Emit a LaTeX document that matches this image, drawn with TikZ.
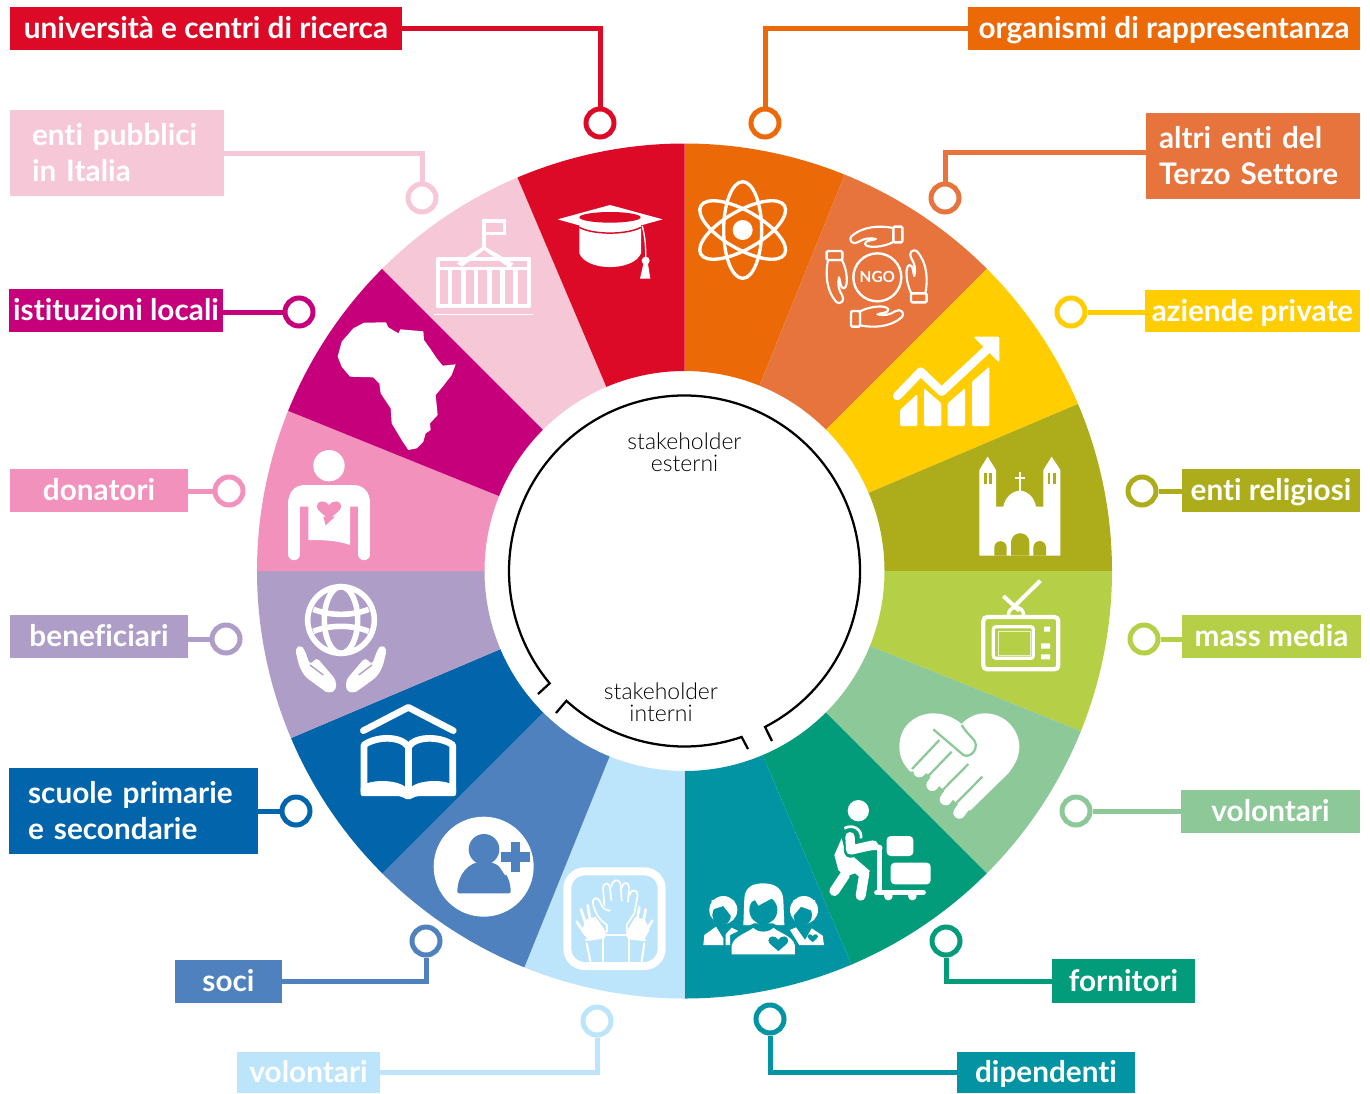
\documentclass[tikz,border=0pt]{standalone}
\usepackage{fontspec}
\setmainfont{Lato}[Ligatures=NoCommon]
\newfontfamily\lightf{Lato Light}[Ligatures=NoCommon]
\definecolor{cRed}{HTML}{DC0A26}
\definecolor{cOra}{HTML}{EC6907}
\definecolor{cPale}{HTML}{F6C7D6}
\definecolor{cCor}{HTML}{E6743C}
\definecolor{cMag}{HTML}{C6007B}
\definecolor{cYel}{HTML}{FFCD00}
\definecolor{cPin}{HTML}{F291BC}
\definecolor{cOli}{HTML}{ADAD1C}
\definecolor{cLil}{HTML}{AE9DC6}
\definecolor{cLim}{HTML}{B5CF47}
\definecolor{cBlu}{HTML}{0265AB}
\definecolor{cMin}{HTML}{8DC898}
\definecolor{cSte}{HTML}{4E81BD}
\definecolor{cGre}{HTML}{039C7A}
\definecolor{cSky}{HTML}{BCE4FA}
\definecolor{cTea}{HTML}{0294A3}
\tikzset{
  lbl/.style={fill=#1,text=white,font=\fontsize{22.3}{27}\selectfont\bfseries,inner sep=0pt,outer sep=0pt,rectangle,anchor=center},
  one/.style={text height=18pt,text depth=2.5pt},
  ring/.style={circle,draw=#1,line width=3.75pt,fill=white,minimum size=21pt,inner sep=0pt},
  conn/.style={draw=#1,line width=3.75pt},
  hk/.style={line width=1.7pt,black,line join=miter},
  zA/.style={shift={(260,140)},x=.25pt,y=-.25pt},
  zB/.style={shift={(680,140)},x=.25pt,y=-.25pt},
  zC/.style={shift={(260,570)},x=.25pt,y=-.25pt},
  zD/.style={shift={(680,570)},x=.25pt,y=-.25pt},
  zH/.style={shift={(555,860)},x=.25pt,y=-.25pt},
  zW/.style={shift={(825,795)},x=.25pt,y=-.25pt},
  zF/.style={shift={(695,875)},x=.25pt,y=-.25pt},
  stk/.style={font=\lightf\fontsize{17.2}{16.5}\selectfont,align=center,text=black}
}
\newcommand{\myheart}[3]{\fill[#3,shift={(#1)},scale=#2] (0,25) .. controls (-15,10) and (-35,0) .. (-35,-12) .. controls (-35,-30) and (-10,-32) .. (0,-15) .. controls (10,-32) and (35,-30) .. (35,-12) .. controls (35,0) and (15,10) .. (0,25) -- cycle;}
\newcommand{\ngohand}{\draw[white,line width=1.6pt,line join=round,fill=cCor]
  (640,264) .. controls (600,256) and (550,258) .. (515,288) .. controls (503,303) and (520,316) .. (535,306) .. controls (550,296) and (568,292) .. (588,297) .. controls (575,302) and (555,300) .. (555,312) .. controls (560,326) and (610,322) .. (640,306) -- cycle;
  \draw[white,line width=1.8pt,rounded corners=1pt,fill=cCor] (640,260) rectangle (667,307);}
\begin{document}
\begin{tikzpicture}[x=.75pt,y=-.75pt]
\useasboundingbox (0,0) rectangle (1370,1093);
\fill[white] (0,0) rectangle (1370,1093);
\coordinate (W) at (684.5,571);
% wheel
\begin{scope}[shift={(W)}]
\foreach \c/\u/\v in {cOra/-90/-68,cCor/-68/-45,cYel/-45/-23,cOli/-23/0,cLim/0/22,cMin/22/45,cGre/45/67,cTea/67/90,cSky/90/112,cSte/112/135,cBlu/135/157,cLil/157/180,cPin/180/202,cMag/202/225,cPale/225/247,cRed/247/270}{
  \fill[\c] (\u:427.5) arc[start angle=\u,end angle=\v,radius=427.5] -- (\v:200) arc[start angle=\v,end angle=\u,radius=200] -- cycle;
}
\coordinate (e1) at (62.7:175.5);
\coordinate (e2) at (140.2:175.5);
\coordinate (e3) at (132.3:175.5);
\coordinate (e4) at (71:175.5);
\end{scope}
\coordinate (h1) at (772,741);
\coordinate (h2) at (538,694);
\coordinate (h3) at (556,713);
\coordinate (h4) at (748,749);
\draw[hk] (h1) -- (e1) arc[start angle=62.7,end angle=-219.8,radius=175.5] -- (h2);
\draw[hk] (h3) -- (e3) arc[start angle=132.3,end angle=71,radius=175.5] -- (h4);
\node[stk] (se) at (684.5,452) {stakeholder\\esterni};
\node[stk] (si) at (661,702) {stakeholder\\interni};
% labels
\node[lbl=cRed,one,minimum width=294pt,minimum height=32.25pt] (l1) at (206,28.5) {università e centri di ricerca};
\node[lbl=cOra,one,minimum width=294pt,minimum height=32.25pt] (l2) at (1164,28.5) {organismi di rappresentanza};
\node[lbl=cPale,minimum width=160.5pt,minimum height=64.5pt,text width=127.5pt,align=left] (l3) at (117,153) {enti pubblici\\in Italia};
\node[lbl=cCor,minimum width=160.5pt,minimum height=64.5pt,text width=141pt,align=left] (l4) at (1253,156) {altri enti del\\Terzo Settore};
\node[lbl=cMag,one,minimum width=160.5pt,minimum height=32.25pt] (l5) at (116,310.5) {istituzioni locali};
\node[lbl=cYel,one,minimum width=161.25pt,minimum height=31.5pt] (l6) at (1252.5,311) {aziende private};
\node[lbl=cPin,one,minimum width=133.5pt,minimum height=32.25pt] (l7) at (99,490.5) {donatori};
\node[lbl=cOli,one,minimum width=133.5pt,minimum height=32.25pt] (l8) at (1271,490.5) {enti religiosi};
\node[lbl=cLil,one,minimum width=133.5pt,minimum height=32.25pt] (l9) at (99,636.5) {beneficiari};
\node[lbl=cLim,one,minimum width=134.25pt,minimum height=32.25pt] (l10) at (1271.5,636.5) {mass media};
\node[lbl=cBlu,minimum width=186.75pt,minimum height=64.5pt,text width=158pt,align=left] (l11) at (133.5,811) {scuole primarie\\e secondarie};
\node[lbl=cMin,one,minimum width=134.25pt,minimum height=32.25pt] (l12) at (1270.5,811.5) {volontari};
\node[lbl=cSte,one,minimum width=80.25pt,minimum height=32.25pt] (l13) at (228.5,981.5) {soci};
\node[lbl=cGre,one,minimum width=107.25pt,minimum height=33pt] (l14) at (1123.5,981) {fornitori};
\node[lbl=cSky,one,minimum width=107.25pt,minimum height=30.75pt] (l15) at (308.5,1072.5) {volontari};
\node[lbl=cTea,one,minimum width=133.5pt,minimum height=30.75pt] (l16) at (1046,1072.5) {dipendenti};
% rings
\node[ring=cRed] (c1) at (600,123) {};
\node[ring=cOra] (c2) at (765,123) {};
\node[ring=cPale] (c3) at (422,198) {};
\node[ring=cCor] (c4) at (945,198) {};
\node[ring=cMag] (c5) at (299,312) {};
\node[ring=cYel] (c6) at (1071,312) {};
\node[ring=cPin] (c7) at (229,491) {};
\node[ring=cOli] (c8) at (1142,491) {};
\node[ring=cLil] (c9) at (226,639) {};
\node[ring=cLim] (c10) at (1144,639) {};
\node[ring=cBlu] (c11) at (296,811) {};
\node[ring=cMin] (c12) at (1076,811) {};
\node[ring=cSte] (c13) at (426,941) {};
\node[ring=cGre] (c14) at (946,941) {};
\node[ring=cSky] (c15) at (597,1021) {};
\node[ring=cTea] (c16) at (770,1019) {};
\coordinate (a4) at (1146,152);
% connectors
\draw[conn=cRed] (l1.east) -| (c1.north);
\draw[conn=cOra] (l2.west) -| (c2.north);
\draw[conn=cPale] (l3.east) -| (c3.north);
\draw[conn=cCor] (a4) -| (c4.north);
\draw[conn=cMag] (l5.east |- c5.west) -- (c5.west);
\draw[conn=cYel] (l6.west |- c6.east) -- (c6.east);
\draw[conn=cPin] (l7.east |- c7.west) -- (c7.west);
\draw[conn=cOli] (l8.west |- c8.east) -- (c8.east);
\draw[conn=cLil] (l9.east |- c9.west) -- (c9.west);
\draw[conn=cLim] (l10.west |- c10.east) -- (c10.east);
\draw[conn=cBlu] (l11.east) -- (c11.west);
\draw[conn=cMin] (l12.west |- c12.east) -- (c12.east);
\draw[conn=cSte] (l13.east) -| (c13.south);
\draw[conn=cGre] (l14.west) -| (c14.south);
\draw[conn=cSky] (l15.east) -| (c15.south);
\draw[conn=cTea] (l16.west) -| (c16.south);
% ---- quadrant A icons
\begin{scope}[zA]
 % cap
 \fill[white] (893,238) -- (1050,195) -- (1208,238) -- (1050,282) -- cycle;
 \fill[white] (958,250) -- (1143,250) -- (1143,340) .. controls (1120,395) and (980,395) .. (958,340) -- cycle;
 \fill[cRed] (1050,232) ellipse[x radius=92,y radius=16];
 \draw[cRed,line width=1.1pt] (958,262) .. controls (1000,285) and (1100,285) .. (1143,262);
 \draw[white,line width=1pt] (1147,258) .. controls (1155,290) and (1158,320) .. (1157,360);
 \fill[white] (1157,362) circle[radius=12];
 \fill[white] (1150,372) -- (1164,372) -- (1171,416) -- (1140,416) -- cycle;
 % capitol
 \draw[white,line width=3pt,line join=round] (534,356) rectangle (806,499);
 \draw[white,line width=2.6pt] (534,385) -- (806,385);
 \foreach \x in {570,610,648,688,727,767}{\draw[white,line width=3.4pt] (\x,385) -- (\x,499);}
 \fill[white] (590,370) -- (672,318) -- (760,370) -- (750,385) -- (672,330) -- (606,380) -- cycle;
 \draw[white,line width=2.6pt] (672,322) -- (672,243) -- (733,243) -- (733,281) -- (672,281);
 \draw[white,line width=.8pt] (523,524) -- (818,524);
 % Africa
 \fill[white] (312,548) -- (378,547) -- (385,562) -- (415,580) -- (421,568) -- (490,574) -- (492,600) -- (510,625) -- (530,655) -- (548,677) -- (587,673) -- (575,705) -- (548,740) -- (527,765) -- (533,825) -- (510,850) -- (512,870) -- (497,880) -- (490,905) -- (470,925) -- (445,930) -- (425,900) -- (395,850) -- (392,805) -- (362,760) -- (358,730) -- (340,712) -- (270,710) -- (245,680) -- (233,650) -- (245,605) -- (280,565) -- cycle;
 % donor
 \fill[white] (207,977) circle[radius=47];
 \fill[white] (85,1090) .. controls (85,1055) and (105,1035) .. (135,1035) -- (280,1035) .. controls (310,1035) and (330,1055) .. (330,1090) -- (295,1100) -- (295,1100) -- (270,1100) -- (270,1215) .. controls (230,1200) and (180,1200) .. (145,1200) -- (145,1100) -- (120,1100) -- cycle;
 \draw[white,line width=8.75pt,line cap=round] (102.5,1085) -- (102.5,1243) (312.5,1085) -- (312.5,1243);
 \myheart{207,1112}{1.05}{cPin}
 \fill[cPin] (190,1130) -- (197,1156) -- (225,1130) -- cycle;
\end{scope}
% ---- quadrant B icons
\begin{scope}[zB]
 % atom
 \foreach \r in {0,60,120}{\draw[white,line width=2.5pt,rotate around={\r:(188,270)}] (188,270) ellipse[x radius=57,y radius=145];}
 \fill[white] (188,270) circle[radius=30];
 % NGO
 \draw[white,line width=1.8pt] (592,412) circle[radius=72];
 \node[text=white,font=\fontsize{11.5}{11.5}\selectfont\bfseries] (ngo) at (592,412) {NGO};
 \begin{scope}\ngohand\end{scope}
 \begin{scope}[rotate around={-90:(590,410)}]\ngohand\end{scope}
 \begin{scope}[rotate around={180:(590,410)}]\ngohand\end{scope}
 \begin{scope}[rotate around={90:(590,410)}]\ngohand\end{scope}
 % chart
 \fill[white,rounded corners=1pt] (660,858) -- (712,858) -- (712,762) -- (660,810) -- cycle;
 \fill[white,rounded corners=1pt] (732,858) -- (784,858) -- (784,790) -- (732,745) -- cycle;
 \fill[white,rounded corners=1pt] (803,858) -- (855,858) -- (855,745) -- (803,790) -- cycle;
 \fill[white,rounded corners=1pt] (876,858) -- (928,858) -- (928,680) -- (876,725) -- cycle;
 \draw[cYel,line width=11pt,line join=round] (650,768) -- (722,695) -- (785,755) -- (930,615);
 \draw[white,line width=6.5pt,line cap=round,line join=round] (652,768) -- (722,695) -- (785,755) -- (930,620);
 \fill[white,rounded corners=1.5pt] (880,590) -- (958,590) -- (958,668) -- cycle;
 % church
 \fill[white] (898,1247) -- (898,990) -- (923,950) -- (948,990) -- (948,1100) -- (970,1100) .. controls (975,1070) and (1000,1052) .. (1019,1052) .. controls (1040,1052) and (1063,1070) .. (1068,1100) -- (1090,1100) -- (1090,990) -- (1115,950) -- (1141,990) -- (1141,1247) -- cycle;
 \foreach \x in {912,927,1103,1119}{\fill[cOli] (\x,1000) rectangle (\x+8,1033);}
 \fill[cOli] (943,1247) -- (943,1222) arc[start angle=180,end angle=360,radius=18.5] -- (980,1247) -- cycle;
 \fill[cOli] (993,1247) -- (993,1207) arc[start angle=180,end angle=360,radius=27.5] -- (1048,1247) -- cycle;
 \fill[cOli] (1060,1247) -- (1060,1222) arc[start angle=180,end angle=360,radius=19] -- (1098,1247) -- cycle;
 \draw[white,line width=1.6pt] (1020,995) -- (1020,1052) (1005,1015) -- (1035,1015);
\end{scope}
% ---- quadrant C icons
\begin{scope}[zC]
 % globe
 \draw[white,line width=4.2pt] (243,150) circle[radius=100];
 \draw[white,line width=4.2pt] (243,150) ellipse[x radius=50,y radius=100];
 \draw[white,line width=4.2pt] (160,118) .. controls (210,138) and (276,138) .. (326,118);
 \draw[white,line width=4.2pt] (160,184) .. controls (210,164) and (276,164) .. (326,184);
 \foreach \s/\o in {1/0,-1/486}{
  \begin{scope}[xshift=\o*.25pt,xscale=\s]
  \fill[white,rounded corners=3pt] (105,236) -- (122,224) -- (134,240) -- (150,285) -- (170,262) -- (228,330) -- (228,362) -- (205,370) -- (190,360) -- (135,320) -- (118,290) -- cycle;
  \end{scope}
 }
 \draw[cLil,line width=1pt] (150,285) -- (190,315);
 \draw[cLil,line width=1pt] (336,285) -- (296,315);
 % book
 \draw[white,line width=5pt,line cap=round,line join=round] (310,482) -- (445,412) -- (580,482);
 \draw[white,line width=5pt,line join=round] (312,665) -- (312,525) .. controls (345,500) and (420,495) .. (445,530) .. controls (470,495) and (545,500) .. (578,525) -- (578,665);
 \fill[white] (434,525) rectangle (456,670);
 \fill[white,rounded corners=1.5pt] (302,650) .. controls (340,625) and (420,630) .. (445,660) .. controls (470,630) and (550,625) .. (588,650) -- (588,678) -- (470,678) -- (445,690) -- (420,678) -- (302,678) -- cycle;
 % add user
 \fill[white] (671,890) circle[radius=150];
 \fill[cSte,rounded corners=1pt] (592,970) .. controls (592,915) and (625,875) .. (672,875) .. controls (720,875) and (752,915) .. (752,970) -- cycle;
 \fill[cSte] (672,838) circle[radius=46];
 \fill[white] (708,875) -- (745,875) -- (745,915) -- (735,915) -- cycle;
 \fill[cSte] (722,847) rectangle (810,875);
 \fill[cSte] (752,817) rectangle (780,905);
\end{scope}
% raised hands
\begin{scope}[zH]
 \draw[white,line width=6pt,rounded corners=13pt] (37,34) rectangle (320,318);
 \begin{scope}[white,line join=round,line cap=round]
  % centre hand
  \draw[line width=1.3pt] (165,152) .. controls (150,150) and (142,145) .. (135,125) .. controls (128,108) and (108,112) .. (115,135) .. controls (120,160) and (135,180) .. (156,195) -- (156,216);
  \draw[line width=1.3pt] (148,135) -- (144,85) .. controls (146,65) and (163,65) .. (165,85) -- (169,120);
  \draw[line width=1.3pt] (169,80) .. controls (172,55) and (195,55) .. (197,75) -- (200,122);
  \draw[line width=1.3pt] (201,82) .. controls (205,62) and (222,65) .. (222,85) -- (219,125);
  \draw[line width=1.3pt] (224,105) .. controls (228,85) and (248,88) .. (248,105) -- (238,160) -- (215,195) -- (215,216);
  % side hands
  \fill (95,178) -- (122,170) -- (152,215) -- (152,232) -- (100,242) -- (80,210) -- cycle;
  \fill (269,178) -- (240,172) -- (215,215) -- (215,232) -- (265,242) -- (284,210) -- cycle;
  \draw[line width=2pt] (78,148) -- (92,190);
  \draw[line width=2pt] (98,136) -- (106,182);
  \draw[line width=2pt] (65,185) -- (92,225);
  \draw[line width=2pt] (253,142) -- (246,182);
  \draw[line width=2pt] (272,148) -- (264,190);
  \draw[line width=2pt] (292,182) -- (265,225);
  % sleeves
  \draw[line width=1.6pt] (93,240) -- (135,234) (95,250) -- (106,303);
  \draw[line width=1.6pt] (228,236) -- (270,240) (268,250) -- (260,303);
  \draw[line width=1.7pt] (145,225) -- (220,225);
  \draw[line width=1.3pt,line cap=butt] (143,225) -- (143,305) (222,225) -- (222,305);
 \end{scope}
\end{scope}
% ---- quadrant D icons
\begin{scope}[zD]
 % tv
 \draw[white,line width=3.2pt,rounded corners=3pt] (910,141) rectangle (1135,298);
 \draw[white,line width=2.4pt,rounded corners=2pt] (940,170) rectangle (1060,265);
 \draw[white!70!cLim,line width=.6pt] (955,185) rectangle (1050,255);
 \fill[white] (1092,170) rectangle (1110,185) (1083,220) rectangle (1110,236) (1083,253) rectangle (1110,268);
 \draw[white,line width=3pt] (1081,32) -- (1000,112);
 \draw[white,line width=3pt] (970,78) -- (1018,122);
 \draw[white,line width=2.6pt] (985,135) arc[start angle=180,end angle=360,radius=23];
 % heart hands
 \fill[white] (658,530) .. controls (658,465) and (710,430) .. (760,430) .. controls (795,430) and (825,445) .. (845,462) .. controls (865,440) and (890,430) .. (915,430) .. controls (975,430) and (1018,480) .. (1018,530) .. controls (1018,565) and (1000,590) .. (985,610) -- (870,722) -- (840,710) -- (730,600) -- (692,605) .. controls (670,585) and (658,560) .. (658,530) -- cycle;
 \begin{scope}[white,line width=9pt,line cap=round]
 \draw (760,560) -- (718,604);
 \draw (800,590) -- (757,645);
 \draw (840,630) -- (797,688);
 \draw (880,670) -- (838,728);
 \end{scope}
 \begin{scope}[cMin,line width=1.7pt,line cap=butt]
 \draw (778,510) -- (696,597);
 \draw (815,545) -- (738,625);
 \draw (865,582) -- (780,668);
 \draw (907,620) -- (822,706);
 \draw (760,478) -- (850,555) .. controls (870,565) and (895,540) .. (885,515) .. controls (880,505) and (860,490) .. (845,465);
 \end{scope}
\end{scope}
% worker
\begin{scope}[zW]
 \fill[white] (100,47) circle[radius=32];
 \fill[white] (50,130) -- (28,180) -- (40,225) -- (60,245) -- (90,235) -- (115,255) -- (135,228) -- (85,185) -- (65,185) -- cycle;
 \draw[white,line width=7.5pt,line cap=round] (60,240) -- (28,288);
 \draw[white,line width=7.5pt,line cap=round] (118,235) -- (107,302);
 \draw[cGre,line width=10pt,line cap=round,line join=round] (75,122) -- (77,168) -- (145,152);
 \draw[white,line width=7pt,line cap=round,line join=round] (75,125) -- (77,165) -- (145,150);
 \fill[white,rounded corners=1pt] (130,140) -- (172,152) -- (172,165) -- (130,165) -- cycle;
 \draw[white,line width=2pt] (58,100) .. controls (85,85) and (112,105) .. (108,130);
 \draw[white,line width=3.5pt] (163,155) -- (163,292);
 \draw[white,line width=3.8pt,line cap=round] (155,293) -- (295,293);
 \fill[white] (190,303) circle[radius=13] (262,303) circle[radius=13];
 \fill[white,rounded corners=3pt] (185,123) rectangle (265,183);
 \fill[white,rounded corners=3pt] (197,203) rectangle (317,268);
\end{scope}
% family
\begin{scope}[zF]
 \fill[white] (145,150) -- (148,70) .. controls (150,35) and (175,25) .. (205,25) .. controls (240,25) and (263,40) .. (265,75) -- (268,150) .. controls (250,152) and (240,150) .. (235,145) -- (175,145) .. controls (170,150) and (160,152) .. (145,150) -- cycle;
 \fill[cTea] (205,105) ellipse[x radius=42,y radius=43];
 \fill[white] (160,85) -- (180,75) -- (190,92) -- (240,65) -- (250,50) -- (160,50) -- cycle;
 \draw[cTea,line width=1pt,fill=white] (108,240) -- (108,210) .. controls (115,180) and (160,170) .. (175,155) .. controls (190,172) and (220,172) .. (235,155) .. controls (250,170) and (295,180) .. (302,210) -- (302,240) -- cycle;
 \myheart{250,207}{.85}{cTea}
 % side people
 \fill[white] (85,105) circle[radius=42];
 \fill[cTea] (80,120) ellipse[x radius=28,y radius=31];
 \fill[white] (48,105) -- (85,93) -- (112,128) -- (120,80) -- (50,75) -- cycle;
 \fill[white] (25,210) -- (28,180) -- (63,155) -- (85,190) -- (85,210) -- cycle;
 \fill[white] (92,178) -- (110,158) -- (130,168) -- (105,180) -- (105,210) -- (92,210) -- cycle;
 \fill[white] (327,105) circle[radius=42];
 \fill[cTea] (323,120) ellipse[x radius=28,y radius=31];
 \fill[white] (293,125) -- (318,95) -- (360,110) -- (360,75) -- (295,75) -- cycle;
 \fill[white] (285,165) -- (303,157) -- (330,195) -- (350,160) -- (383,182) -- (387,210) -- (313,210) -- cycle;
 \myheart{353,190}{.45}{cTea}
\end{scope}
\end{tikzpicture}
\end{document}
